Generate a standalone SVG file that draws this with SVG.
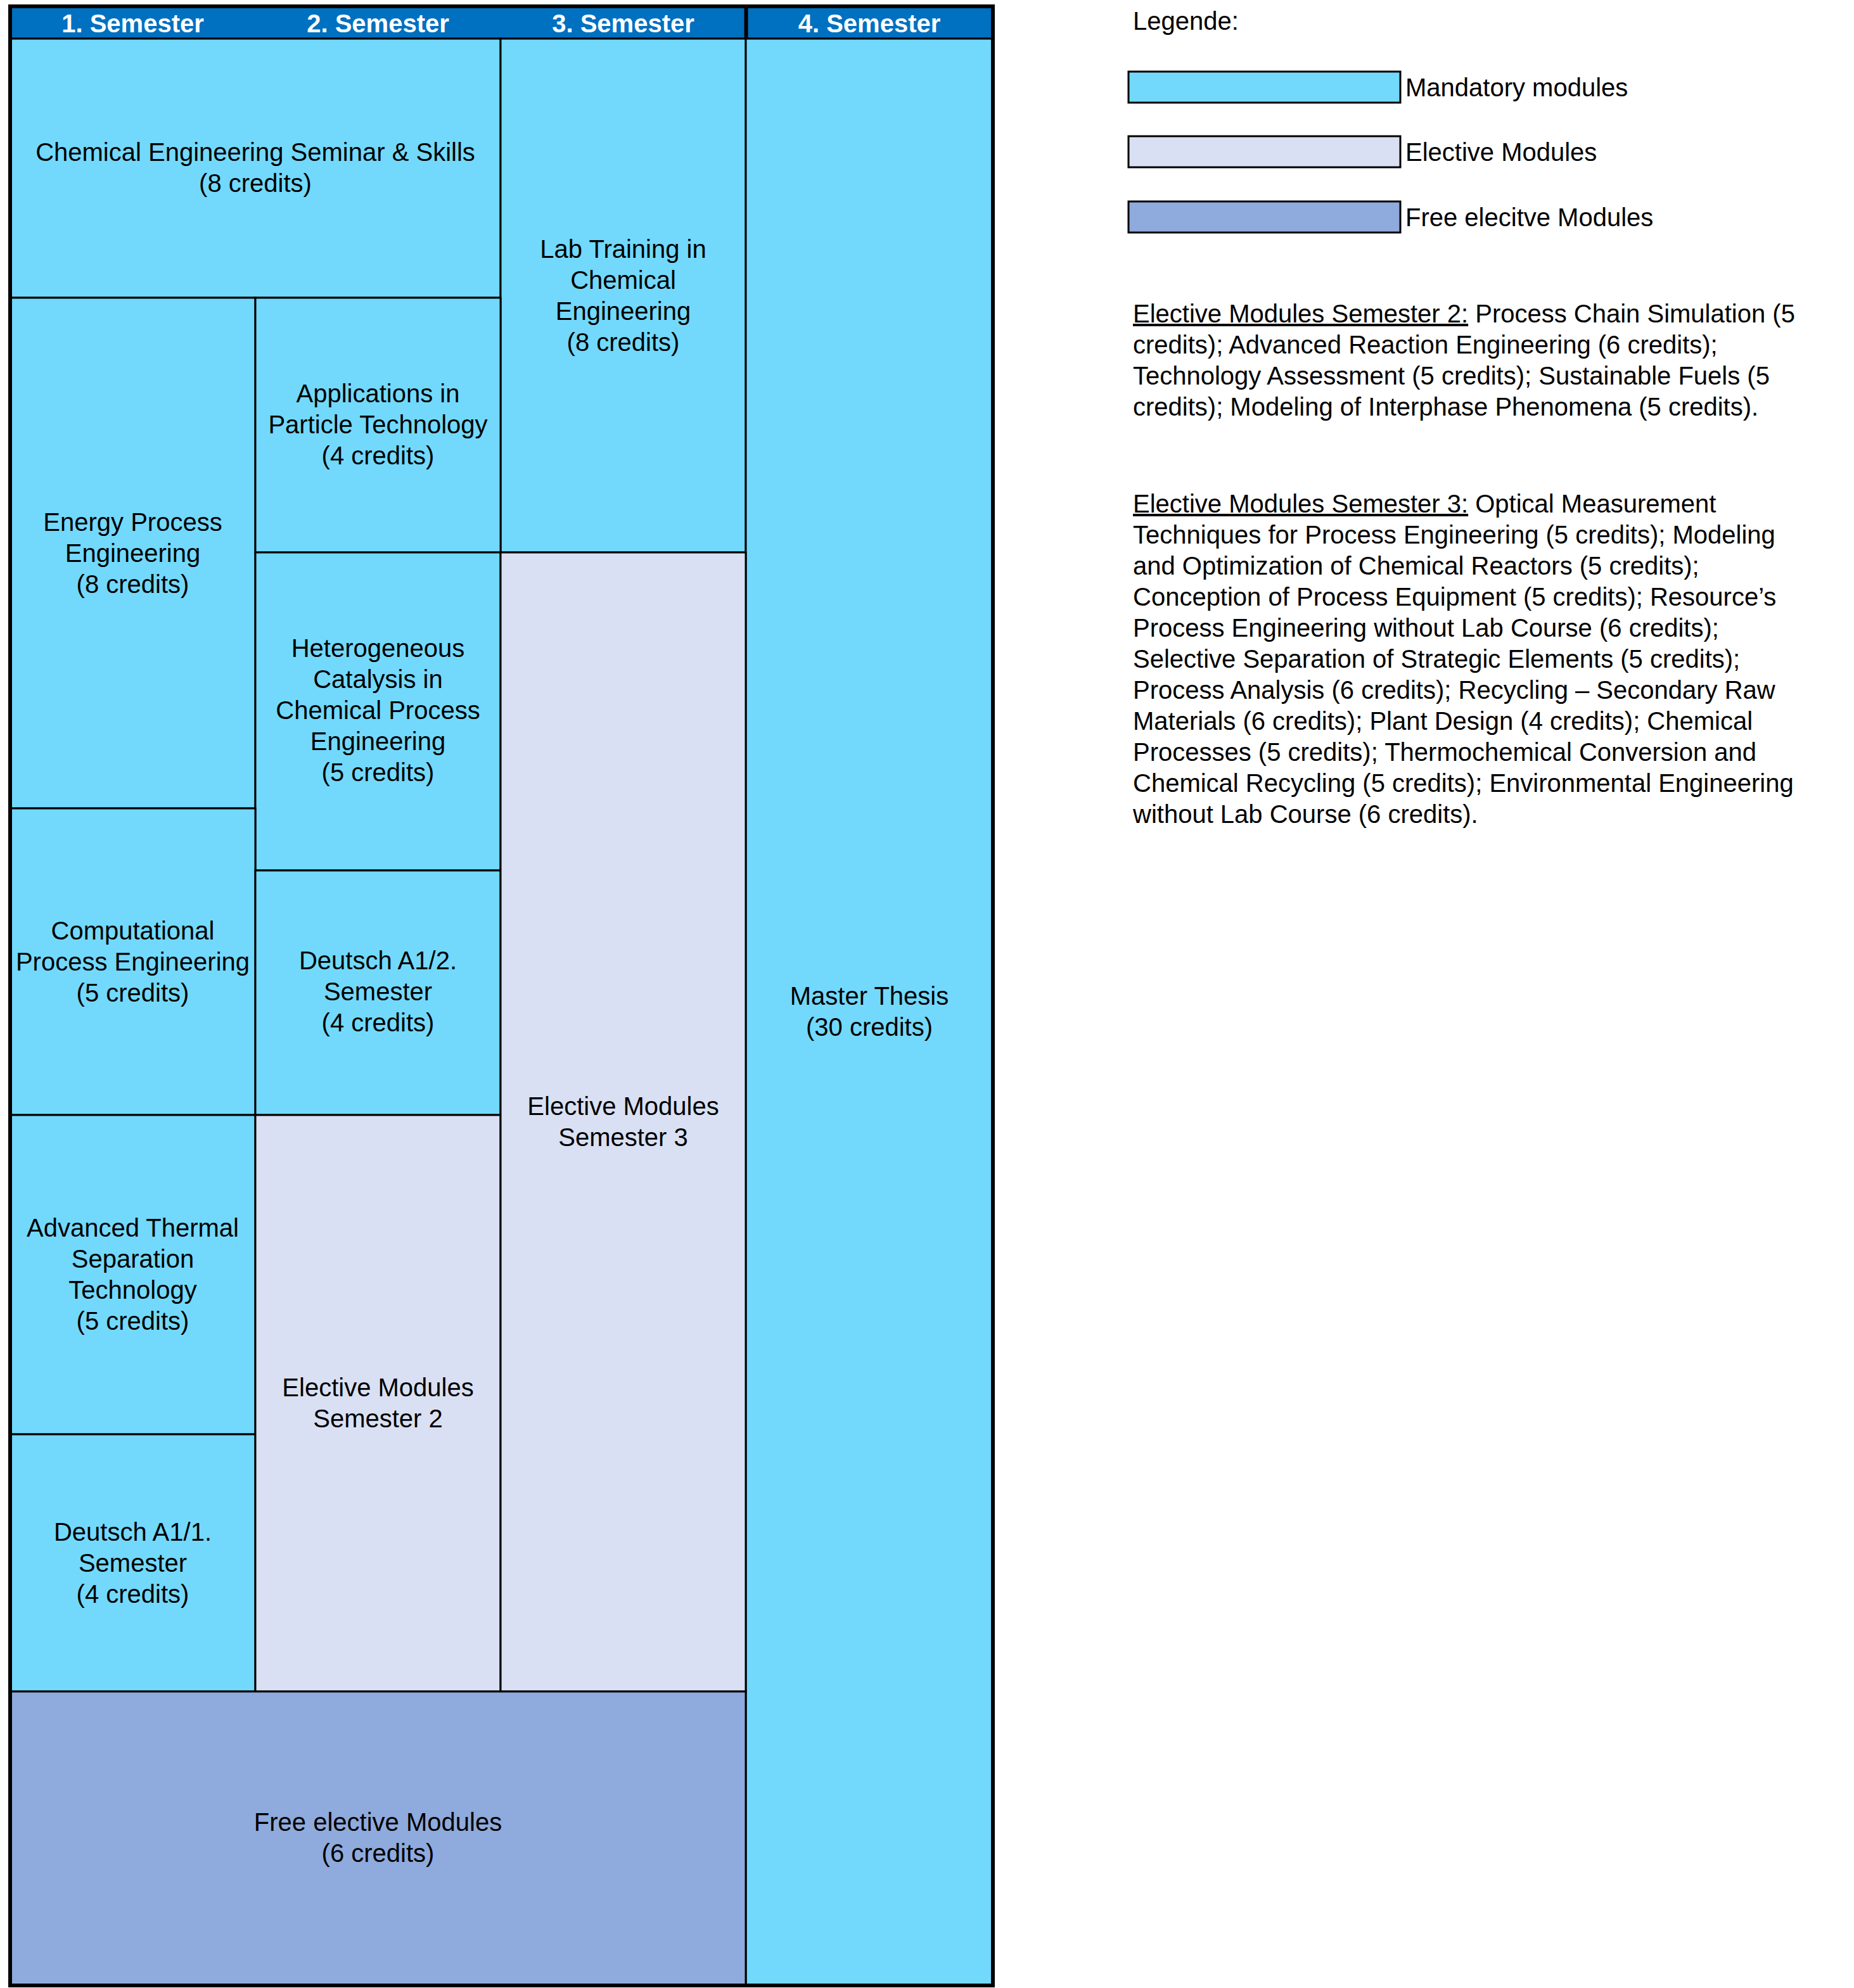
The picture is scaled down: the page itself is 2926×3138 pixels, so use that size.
<svg xmlns="http://www.w3.org/2000/svg" width="2926" height="3138" viewBox="0 0 2926 3138">
<style>
text{font-family:"Liberation Sans",Arial,sans-serif;font-size:40px;fill:#000}
.c{text-anchor:middle}
.h{font-weight:bold;fill:#fff;text-anchor:middle}
.m{fill:#72D9FD;stroke:#000;stroke-width:3}
.e{fill:#DAE0F3;stroke:#000;stroke-width:3}
.f{fill:#8FAADC;stroke:#000;stroke-width:3}
.u{text-decoration:underline}
</style>
<rect width="2926" height="3138" fill="#fff"/>
<g id="header">
<rect x="16" y="10" width="1551" height="51" fill="#0070C0"/>
<text class="h" x="209.5" y="51">1. Semester</text>
<text class="h" x="596.5" y="51">2. Semester</text>
<text class="h" x="983.5" y="51">3. Semester</text>
<text class="h" x="1372" y="51">4. Semester</text>
<line x1="1177.5" y1="10" x2="1177.5" y2="61" stroke="#000" stroke-width="6"/>
<line x1="16" y1="61" x2="1567" y2="61" stroke="#000" stroke-width="3"/>
</g>
<g id="chem-seminar">
<rect class="m" x="16" y="61" width="774" height="409"/>
<text class="c" x="403" y="254">Chemical Engineering Seminar &amp; Skills</text>
<text class="c" x="403" y="303">(8 credits)</text>
</g>
<g id="lab-training">
<rect class="m" x="790" y="61" width="387" height="811"/>
<text class="c" x="983.5" y="407">Lab Training in</text>
<text class="c" x="983.5" y="456">Chemical</text>
<text class="c" x="983.5" y="505">Engineering</text>
<text class="c" x="983.5" y="554">(8 credits)</text>
</g>
<g id="master-thesis">
<rect class="m" x="1177" y="61" width="390" height="3073"/>
<text class="c" x="1372" y="1586">Master Thesis</text>
<text class="c" x="1372" y="1635">(30 credits)</text>
</g>
<g id="energy-process">
<rect class="m" x="16" y="470" width="387" height="806"/>
<text class="c" x="209.5" y="838">Energy Process</text>
<text class="c" x="209.5" y="887">Engineering</text>
<text class="c" x="209.5" y="936">(8 credits)</text>
</g>
<g id="particle-tech">
<rect class="m" x="403" y="470" width="387" height="402"/>
<text class="c" x="596.5" y="635">Applications in</text>
<text class="c" x="596.5" y="684">Particle Technology</text>
<text class="c" x="596.5" y="733">(4 credits)</text>
</g>
<g id="catalysis">
<rect class="m" x="403" y="872" width="387" height="502"/>
<text class="c" x="596.5" y="1037">Heterogeneous</text>
<text class="c" x="596.5" y="1086">Catalysis in</text>
<text class="c" x="596.5" y="1135">Chemical Process</text>
<text class="c" x="596.5" y="1184">Engineering</text>
<text class="c" x="596.5" y="1233">(5 credits)</text>
</g>
<g id="computational">
<rect class="m" x="16" y="1276" width="387" height="484"/>
<text class="c" x="209.5" y="1483">Computational</text>
<text class="c" x="209.5" y="1532">Process Engineering</text>
<text class="c" x="209.5" y="1581">(5 credits)</text>
</g>
<g id="deutsch-2">
<rect class="m" x="403" y="1374" width="387" height="386"/>
<text class="c" x="596.5" y="1530">Deutsch A1/2.</text>
<text class="c" x="596.5" y="1579">Semester</text>
<text class="c" x="596.5" y="1628">(4 credits)</text>
</g>
<g id="thermal-separation">
<rect class="m" x="16" y="1760" width="387" height="504"/>
<text class="c" x="209.5" y="1952">Advanced Thermal</text>
<text class="c" x="209.5" y="2001">Separation</text>
<text class="c" x="209.5" y="2050">Technology</text>
<text class="c" x="209.5" y="2099">(5 credits)</text>
</g>
<g id="deutsch-1">
<rect class="m" x="16" y="2264" width="387" height="406"/>
<text class="c" x="209.5" y="2432">Deutsch A1/1.</text>
<text class="c" x="209.5" y="2481">Semester</text>
<text class="c" x="209.5" y="2530">(4 credits)</text>
</g>
<g id="elective-2">
<rect class="e" x="403" y="1760" width="387" height="910"/>
<text class="c" x="596.5" y="2204">Elective Modules</text>
<text class="c" x="596.5" y="2253">Semester 2</text>
</g>
<g id="elective-3">
<rect class="e" x="790" y="872" width="387" height="1798"/>
<text class="c" x="983.5" y="1760">Elective Modules</text>
<text class="c" x="983.5" y="1809">Semester 3</text>
</g>
<g id="free-elective">
<rect class="f" x="16" y="2670" width="1161" height="464"/>
<text class="c" x="596.5" y="2890">Free elective Modules</text>
<text class="c" x="596.5" y="2939">(6 credits)</text>
</g>
<g id="frame">
<rect x="16" y="10" width="1551" height="3124" fill="none" stroke="#000" stroke-width="6"/>
</g>
<g id="connectors"></g>
<g id="legend">
<text x="1788" y="47">Legende:</text>
<rect class="m" x="1781" y="113" width="429" height="49"/>
<text x="2218" y="152">Mandatory modules</text>
<rect class="e" x="1781" y="215" width="429" height="49"/>
<text x="2218" y="254">Elective Modules</text>
<rect class="f" x="1781" y="318" width="429" height="49"/>
<text x="2218" y="357">Free elecitve Modules</text>
</g>
<g id="notes-sem2">
<text x="1788" y="509"><tspan class="u">Elective Modules Semester 2:</tspan> Process Chain Simulation (5</text>
<text x="1788" y="558">credits); Advanced Reaction Engineering (6 credits);</text>
<text x="1788" y="607">Technology Assessment (5 credits); Sustainable Fuels (5</text>
<text x="1788" y="656">credits); Modeling of Interphase Phenomena (5 credits).</text>
</g>
<g id="notes-sem3">
<text x="1788" y="809"><tspan class="u">Elective Modules Semester 3:</tspan> Optical Measurement</text>
<text x="1788" y="858">Techniques for Process Engineering (5 credits); Modeling</text>
<text x="1788" y="907">and Optimization of Chemical Reactors (5 credits);</text>
<text x="1788" y="956">Conception of Process Equipment (5 credits); Resource’s</text>
<text x="1788" y="1005">Process Engineering without Lab Course (6 credits);</text>
<text x="1788" y="1054">Selective Separation of Strategic Elements (5 credits);</text>
<text x="1788" y="1103">Process Analysis (6 credits); Recycling – Secondary Raw</text>
<text x="1788" y="1152">Materials (6 credits); Plant Design (4 credits); Chemical</text>
<text x="1788" y="1201">Processes (5 credits); Thermochemical Conversion and</text>
<text x="1788" y="1250">Chemical Recycling (5 credits); Environmental Engineering</text>
<text x="1788" y="1299">without Lab Course (6 credits).</text>
</g>
</svg>
